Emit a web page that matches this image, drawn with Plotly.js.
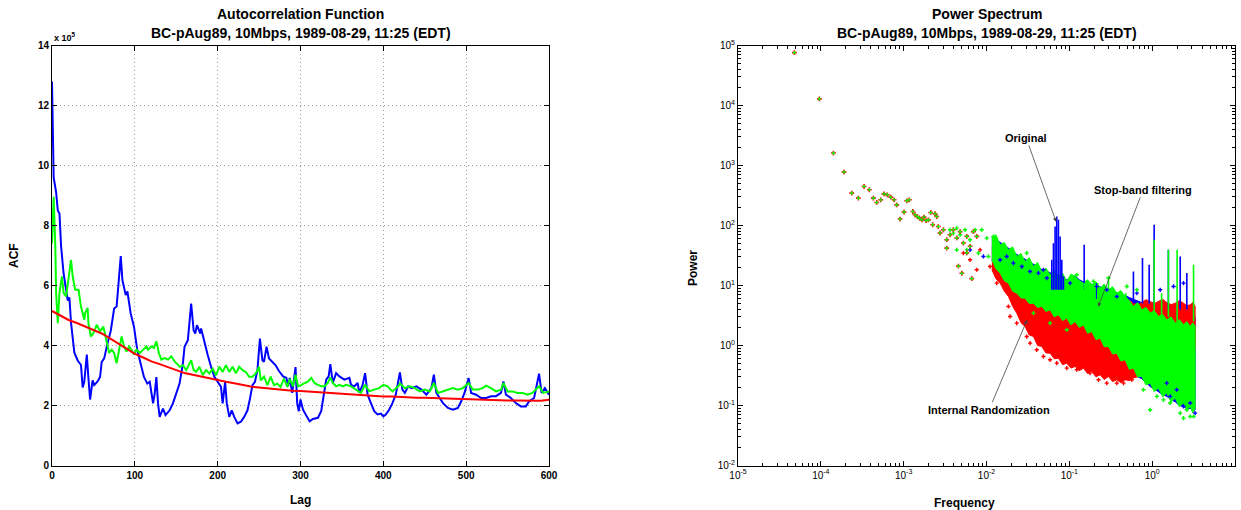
<!DOCTYPE html>
<html>
<head>
<meta charset="utf-8">
<script src="https://cdn.plot.ly/plotly-3.0.1.min.js"></script>
<style>html,body{margin:0;padding:0;background:#fff;}#chart{width:1241px;height:510px;}</style>
</head>
<body>
<div id="chart"></div>
<script>
// ---------------- Autocorrelation (values in units of 1e5) ----------------
const blueLag = [0,1,2,5,7,9,11,14,17,19,21,23,27,31,35,37,39,42,44,46,49,51,55,58,60,63,67,71,75,78,80,83,85,89,91,95,99,103,107,111,115,118,122,124,126,128,130,134,137,142,146,150,154,158,160,164,168,171,173,175,179,180,184,188,192,196,200,204,206,209,211,214,217,220,224,228,232,236,239,242,245,248,251,254,256,259,262,266,270,274,279,283,285,287,290,294,296,298,300,303,307,311,315,321,325,329,331,334,336,339,343,347,353,359,361,365,369,371,375,378,381,385,389,393,397,400,403,407,411,415,420,423,426,430,434,440,446,452,458,461,464,468,472,478,484,490,494,498,503,506,512,518,524,530,536,542,545,548,554,560,566,572,576,582,588,591,595,600];
const blueACF = [12.8,10.5,9.6,9.1,8.5,8.4,7.3,6.4,5.75,5.5,5.6,4.75,3.76,3.5,3.35,2.6,2.8,3.7,2.9,2.2,2.84,2.68,2.8,2.95,3.45,3.57,4.07,4.5,5.23,5.3,5.96,6.98,6.18,5.68,5.8,5.07,4.62,3.84,3.4,2.95,2.73,2.79,2.07,2.4,2.95,2.07,1.62,1.9,1.68,1.84,2.07,2.4,2.73,3.4,3.96,4.18,5.4,4.5,4.4,4.68,4.4,4.57,4.07,3.68,3.29,2.96,2.79,2.62,2.07,2.79,2.07,1.62,1.84,1.62,1.4,1.46,1.62,1.84,2.23,2.68,2.79,3.18,4.23,3.51,3.46,3.96,3.57,3.46,3.34,3.15,2.97,2.92,2.64,2.92,2.42,3.28,2.08,1.81,2.2,1.86,1.64,1.47,1.55,1.59,1.81,2.42,2.86,2.97,3.38,2.75,3.08,2.97,2.86,2.92,2.69,2.64,2.75,2.42,2.69,3.08,2.36,2.08,1.81,1.7,1.73,1.64,1.7,1.86,2.08,2.36,3.1,2.53,2.42,2.64,2.58,2.64,2.53,2.36,2.58,3.03,2.42,2.25,2.08,1.92,1.86,1.92,2.14,2.42,2.92,2.42,2.36,2.25,2.25,2.31,2.31,2.42,2.8,2.36,2.25,2.08,1.97,1.97,2.14,2.25,3.06,2.42,2.58,2.36];

const greenLag = [0,2,4,5,7,9,12,14,17,19,21,23,25,28,32,35,39,40,43,44,47,50,54,58,62,66,69,72,75,78,80,84,87,90,93,96,99,102,106,110,114,116,120,123,126,129,132,136,140,144,148,152,154,158,162,165,168,171,174,178,182,186,190,194,198,202,206,210,214,218,222,226,230,234,238,242,246,250,252,256,260,264,268,272,276,280,284,287,291,294,297,301,305,309,313,317,321,325,329,333,336,339,343,347,351,355,361,367,373,378,383,389,395,400,405,411,418,420,426,432,438,444,450,456,461,466,472,478,484,490,496,503,508,514,520,524,530,536,542,545,550,556,562,568,574,580,588,593,600];
const greenACF = [7.4,8.96,7.3,5.75,4.74,5.75,6.3,5.75,5.64,6.08,6.58,6.85,6.3,5.86,5.86,5.3,4.86,5.08,5.25,4.74,4.3,4.41,4.69,4.47,4.63,4.08,3.75,3.86,3.75,3.41,3.75,4.3,3.97,3.8,3.97,3.86,3.7,3.86,3.75,3.86,3.97,3.86,3.97,3.92,4.14,3.75,3.53,3.58,3.53,3.64,3.47,3.36,3.29,3.34,3.18,3.34,3.51,3.18,3.12,3.29,3.01,3.18,3.07,3.23,3.01,3.29,3.12,3.34,3.12,3.29,3.07,3.29,3.18,3.12,2.96,2.96,3.07,3.29,2.84,2.96,2.68,2.96,2.68,2.73,2.62,2.9,2.62,2.88,2.64,3.03,2.64,2.69,2.75,2.8,2.92,2.75,2.69,2.64,2.64,2.75,2.94,2.75,2.64,2.69,2.64,2.69,2.64,2.53,2.42,2.69,2.47,2.53,2.58,2.69,2.64,2.47,2.64,2.73,2.58,2.64,2.58,2.47,2.53,2.47,2.75,2.42,2.47,2.53,2.58,2.53,2.58,2.75,2.53,2.53,2.58,2.66,2.58,2.47,2.53,2.75,2.47,2.47,2.42,2.42,2.36,2.42,2.64,2.42,2.47];

const redLag = [0,10,20,30,40,50,60,70,80,90,100,110,120,130,140,150,160,170,180,190,200,210,220,230,240,250,260,270,280,290,300,310,320,330,340,350,360,370,380,390,400,410,420,430,440,450,460,470,480,490,500,510,520,530,540,550,560,570,580,590,600];
const redACF = [5.15,5.0,4.85,4.75,4.63,4.52,4.4,4.24,4.07,3.9,3.72,3.6,3.47,3.38,3.29,3.18,3.08,3.02,2.95,2.9,2.84,2.79,2.74,2.68,2.63,2.6,2.57,2.53,2.5,2.49,2.48,2.46,2.45,2.43,2.4,2.38,2.36,2.35,2.33,2.31,2.3,2.3,2.28,2.27,2.26,2.26,2.25,2.23,2.22,2.22,2.21,2.21,2.2,2.19,2.18,2.17,2.17,2.16,2.17,2.16,2.19];

const acfTicksX = [0,100,200,300,400,500,600];
const acfTicksY = [0,2,4,6,8,10,12,14];

// ---------------- Power spectrum ----------------
const lowFreq = [4.8e-5,9.6e-5,1.42e-4,1.91e-4,2.36e-4,2.84e-4,3.33e-4,3.85e-4,4.31e-4,4.73e-4,5.28e-4,5.79e-4,6.35e-4,6.98e-4,7.66e-4,8.24e-4,9.06e-4,1.01e-3,1.09e-3,1.17e-3,1.29e-3,1.37e-3,1.46e-3,1.55e-3,1.66e-3,1.76e-3,1.87e-3,1.99e-3,2.12e-3,2.24e-3,2.39e-3,2.51e-3,2.62e-3,2.75e-3,3.02e-3,3.31e-3,3.63e-3,3.98e-3,4.38e-3,4.80e-3,5.26e-3,5.78e-3,6.34e-3,6.95e-3,7.64e-3,4.58e-3,5.04e-3,6.64e-3,5.78e-3,3.31e-3];
const lowPower = [7.6e4,1.29e4,1611,776,347,286,447,394,286,242,268,337,325,297,268,221,128,167,258,268,171,151,141,133,124,138,121,124,165,103,157,141,96,75,85,58,70,85,62,79,51,66,45,79,66,21,16,13,35,42];

const bandFreq = [0.0116,0.0130,0.0146,0.0164,0.0184,0.0207,0.0232,0.0261,0.0292,0.0328,0.0369,0.0414,0.0465,0.0522,0.0586,0.0658,0.0739,0.083,0.0931,0.1046,0.1174,0.1318,0.148,0.166,0.1866,0.2095,0.2353,0.2642,0.2966,0.333,0.374,0.42,0.472,0.53,0.594,0.667,0.75,0.842,0.946,1.06,1.19,1.34,1.50,1.69,1.90,2.13,2.39,2.62,2.88,3.1,3.3];
const greenBandTop = [61.5,70,47.7,52,39.3,44,30.5,34,25.1,29,20.7,24,17.1,19.5,15.1,18,14.2,16,11.7,15.5,14.2,12,10.96,12.5,10.3,11.5,9.03,10.5,8.48,9.5,7.46,8.2,6.56,5.6,4.48,5.2,3.94,4.3,3.47,3.8,3.05,3.3,2.68,3.0,2.36,2.7,2.21,2.5,2.08,2.4,2.08];
const greenBandBottom = [26.8,19,16.1,12,10.96,8,7.46,6.2,6.15,5.0,5.08,4.3,4.48,3.7,3.94,3.0,3.25,2.6,2.86,2.2,2.51,2.0,2.21,1.6,1.71,1.25,1.33,0.95,0.964,0.72,0.746,0.55,0.578,0.4,0.42,0.3,0.305,0.22,0.236,0.17,0.195,0.14,0.161,0.115,0.133,0.095,0.11,0.085,0.0965,0.075,0.0904];
const redBandTop = [44.7,40,34.6,30,26.8,22,19.5,17,15.1,13,11.7,10.5,9.64,9,8.48,8,7.46,7,6.56,6.2,5.78,5.6,5.42,5.2,5.08,4.9,4.77,4.8,4.77,4.7,4.77,4.9,4.95,5.6,5.08,4.7,5.2,5.8,5.42,5.0,5.42,5.9,5.2,4.8,5.08,5.6,5.08,4.6,4.77,5.2,4.48];
const redBandBottom = [18.3,13,10.96,8,6.56,4.5,3.46,2.4,2.08,1.5,1.41,1.0,0.964,0.75,0.746,0.6,0.616,0.48,0.508,0.42,0.447,0.38,0.42,0.34,0.369,0.3,0.325,0.27,0.305,0.25,0.268,0.24,0.268,0.26,0.287,0.3,0.325,0.33,0.369,0.4,0.447,0.45,0.508,0.55,0.616,0.62,0.69,0.72,0.79,0.8,0.848];
const blueBandTop = [64,60,52,48,42,37,33,30,27,25,22.5,21,18.5,18,16.2,16,15,13,12.5,13.5,14.5,12.5,11.5,11,10.5,9.8,9.3,9,8.6,8,7.6,7.2,6.8,6.3,5.9,5.5,5.1,4.8,4.5,4.2,4.0,3.8,3.6,3.5,3.4,3.3,3.2,3.15,3.1,3.05,3.0];
const blueBandBottom = [26.8,20,16.1,13,10.96,9,7.46,6.8,6.15,5.5,5.08,4.7,4.48,4.2,3.94,3.6,3.3,3.0,2.86,2.7,2.5,2.3,2.21,1.9,1.7,1.5,1.33,1.15,1.0,0.82,0.69,0.58,0.5,0.42,0.369,0.3,0.28,0.24,0.207,0.19,0.17,0.15,0.142,0.125,0.115,0.1,0.0965,0.088,0.09,0.08,0.0848];

const blueSpikeFreq = [0.0614,0.0643,0.0673,0.0705,0.0739,0.0774,0.0811,0.0849,0.151,0.214,0.594,0.764,0.92,1.057,1.57,2.18,2.62];
const blueSpikeTop = [26.8,50.8,96.4,141.6,124.5,65.6,26.8,14.2,47.7,11,17.1,28.6,22.1,102.7,39.3,30.5,16.1];
const blueSpikeBottom = [8.5,8.5,8.5,8.5,8.5,8.5,8.5,8.5,8.5,6,5,5,5,4.5,4,4,4];
const greenSpikeFreq = [0.151,0.22,0.297,0.48,1.057,1.3,1.57,2.0,3.16];
const greenSpikeTop = [11,11,13.3,7.46,57.8,7.46,39.3,39.3,22.1];
const greenSpikeBottom = [5,5,5,4,3.5,3,3,2.5,2.5];

const redDotFreq = [0.0184,0.01927,0.0232,0.0306,0.0336,0.0404,0.0487,0.0586,0.0705,0.0774,0.0931,0.123,0.178,0.225,0.283,0.374,0.451,0.568,0.00634,0.00526,0.00762,0.00836,0.01104,0.0133];
const redDotPower = [4.47,3.05,2.36,1.41,1.095,0.848,0.657,0.578,0.508,0.657,0.42,0.394,0.346,0.268,0.236,0.236,0.236,0.268,26.8,34.6,18.3,39.3,20.7,10.96];
const greenDotFreq = [0.00363,0.00398,0.00437,0.0048,0.00551,0.00634,0.00728,0.00876,0.01007,0.0121,0.00577,0.00798,0.01054,0.00437,0.0306,0.0404,0.123,0.1955,0.2966,0.494,0.653,0.946,2.18,2.39,2.88,3.16,1.65,1.14,0.785,1.37,2.62,0.0931,0.0586,0.0369];
const greenDotPower = [84.8,74.7,90.3,70,84.8,57.8,84.8,84.8,61.5,65.6,39.3,34.6,30.5,39.3,34.6,22.1,15.1,11.7,13.3,9.64,8.48,0.0848,0.0746,0.0616,0.0656,0.0656,0.11,0.142,0.183,0.124,0.0848,1.83,2.36,3.46];
const blueDotFreq = [0.0146,0.01755,0.0211,0.0267,0.0336,0.0424,0.0487,0.0535,0.102,0.214,0.283,0.374,0.653,1.25,1.81,2.39,1.65,2.39,2.88,3.3,1.98,1.5,0.00634,0.00918];
const blueDotPower = [26.8,30.5,23.6,20.7,17.1,16.1,18.3,13.3,10.96,9.64,8.48,6.56,7.46,8.48,9.64,10.96,0.142,0.0965,0.11,0.0746,0.183,0.236,39.3,30.5];

const psTicksX = [1e-5,1e-4,1e-3,1e-2,1e-1,1,10];
const psTickTextX = ['10<sup>-5</sup>','10<sup>-4</sup>','10<sup>-3</sup>','10<sup>-2</sup>','10<sup>-1</sup>','10<sup>0</sup>','10<sup>1</sup>'];
const psTicksY = [1e-2,1e-1,1,10,100,1e3,1e4,1e5];
const psTickTextY = ['10<sup>-2</sup>','10<sup>-1</sup>','10<sup>0</sup>','10<sup>1</sup>','10<sup>2</sup>','10<sup>3</sup>','10<sup>4</sup>','10<sup>5</sup>'];

// ---------------- helpers ----------------
const BLUE = '#0000ff', GREEN = '#00ff00', RED = '#ff0000';
function band(top, bottom, color) {
  return {x: bandFreq.concat(bandFreq.slice().reverse()), y: top.concat(bottom.slice().reverse()),
    xaxis: 'x2', yaxis: 'y2', mode: 'lines', fill: 'toself', fillcolor: color,
    line: {color: color, width: 1}, hoverinfo: 'skip'};
}
function spikes(f, top, bottom, color) {
  const x = [], y = [];
  f.forEach((v, i) => { x.push(v, v, null); y.push(top[i], bottom[i], null); });
  return {x, y, xaxis: 'x2', yaxis: 'y2', mode: 'lines', line: {color: color, width: 1.6}, hoverinfo: 'skip'};
}
function dots(f, p, color, size) {
  return {x: f, y: p, xaxis: 'x2', yaxis: 'y2', mode: 'markers', marker: {symbol: 'cross', size: size, color: color}, hoverinfo: 'skip'};
}

const traces = [
  {x: blueLag, y: blueACF, mode: 'lines', line: {color: BLUE, width: 2}, xaxis: 'x', yaxis: 'y'},
  {x: greenLag, y: greenACF, mode: 'lines', line: {color: GREEN, width: 2}, xaxis: 'x', yaxis: 'y'},
  {x: redLag, y: redACF, mode: 'lines', line: {color: RED, width: 2}, xaxis: 'x', yaxis: 'y'},
  band(blueBandTop, blueBandBottom, BLUE),
  band(redBandTop, redBandBottom, RED),
  band(greenBandTop, greenBandBottom, GREEN),
  spikes(blueSpikeFreq, blueSpikeTop, blueSpikeBottom, BLUE),
  spikes(greenSpikeFreq, greenSpikeTop, greenSpikeBottom, GREEN),
  dots(blueDotFreq, blueDotPower, BLUE, 3.5),
  dots(redDotFreq, redDotPower, RED, 3.5),
  dots(greenDotFreq, greenDotPower, GREEN, 3.5),
  dots(lowFreq, lowPower, RED, 4),
  dots(lowFreq, lowPower, GREEN, 2.8)
];

const FONT = 'Liberation Sans, Arial, Helvetica, sans-serif';
const W = 1241, H = 510;
const axBase = {showline: true, linecolor: '#000', linewidth: 1, mirror: 'allticks', ticks: 'inside',
  ticklen: 5, tickcolor: '#000', zeroline: false, fixedrange: true};
const yDom = [1 - 465.5 / H, 1 - 45.5 / H];

function label(text, px, py, size, extra) {
  return Object.assign({text: text, x: px / W, y: 1 - py / H, xref: 'paper', yref: 'paper',
    xanchor: 'center', yanchor: 'middle', showarrow: false, font: {size: size, weight: 'bold'}}, extra || {});
}

const layout = {
  width: W, height: H, margin: {l: 0, r: 0, t: 0, b: 0},
  paper_bgcolor: '#fff', plot_bgcolor: '#fff', showlegend: false,
  font: {family: FONT, color: '#000', size: 10},
  xaxis: Object.assign({}, axBase, {domain: [52 / W, 549 / W], range: [0, 600], tickmode: 'array', tickvals: acfTicksX,
    showgrid: true, gridcolor: '#9a9a9a', griddash: '1px,3px', gridwidth: 1, tickfont: {size: 10, weight: 'bold'}, anchor: 'y'}),
  yaxis: Object.assign({}, axBase, {domain: yDom, range: [0, 14], tickmode: 'array', tickvals: acfTicksY,
    showgrid: true, gridcolor: '#9a9a9a', griddash: '1px,3px', gridwidth: 1, tickfont: {size: 10, weight: 'bold'}, anchor: 'x'}),
  xaxis2: Object.assign({}, axBase, {domain: [738 / W, 1235 / W], type: 'log', range: [-5, 1], tickmode: 'array',
    tickvals: psTicksX, ticktext: psTickTextX, showgrid: false, tickfont: {size: 10},
    minor: {ticks: 'inside', ticklen: 3, tickcolor: '#000', dtick: 'D1', showgrid: false}, anchor: 'y2'}),
  yaxis2: Object.assign({}, axBase, {domain: yDom, type: 'log', range: [-2, 5], tickmode: 'array',
    tickvals: psTicksY, ticktext: psTickTextY, showgrid: false, tickfont: {size: 10},
    minor: {ticks: 'inside', ticklen: 3, tickcolor: '#000', dtick: 'D1', showgrid: false}, anchor: 'x2'}),
  annotations: [
    label('Autocorrelation Function', 300.5, 14, 14),
    label('BC-pAug89, 10Mbps, 1989-08-29, 11:25 (EDT)', 300.5, 33, 14),
    label('Power Spectrum', 986.5, 14, 14),
    label('BC-pAug89, 10Mbps, 1989-08-29, 11:25 (EDT)', 986.5, 33, 14),
    label('x 10<sup>5</sup>', 52, 37, 9, {xanchor: 'left'}),
    label('Lag', 300.5, 500, 12),
    label('ACF', 14, 256, 12, {textangle: -90}),
    label('Frequency', 964, 503, 12),
    label('Power', 693, 268, 12, {textangle: -90}),
    {text: 'Original', xref: 'x2', yref: 'y2', x: -1.159, y: 2.06, ax: -30, ay: -84, showarrow: true,
      arrowhead: 2, arrowsize: 1, arrowwidth: 0.8, arrowcolor: '#444', font: {size: 11, weight: 'bold'}},
    {text: 'Stop-band filtering', xref: 'x2', yref: 'y2', x: -0.652, y: 0.645, ax: 45, ay: -117, showarrow: true,
      arrowhead: 2, arrowsize: 1, arrowwidth: 0.8, arrowcolor: '#444', font: {size: 11, weight: 'bold'}},
    {text: 'Internal Randomization', xref: 'x2', yref: 'y2', x: -1.510, y: 0.428, ax: -38, ay: 90, showarrow: true,
      arrowhead: 2, arrowsize: 1, arrowwidth: 0.8, arrowcolor: '#444', font: {size: 11, weight: 'bold'}}
  ]
};

Plotly.newPlot('chart', traces, layout, {staticPlot: true, displayModeBar: false});
</script>
</body>
</html>
